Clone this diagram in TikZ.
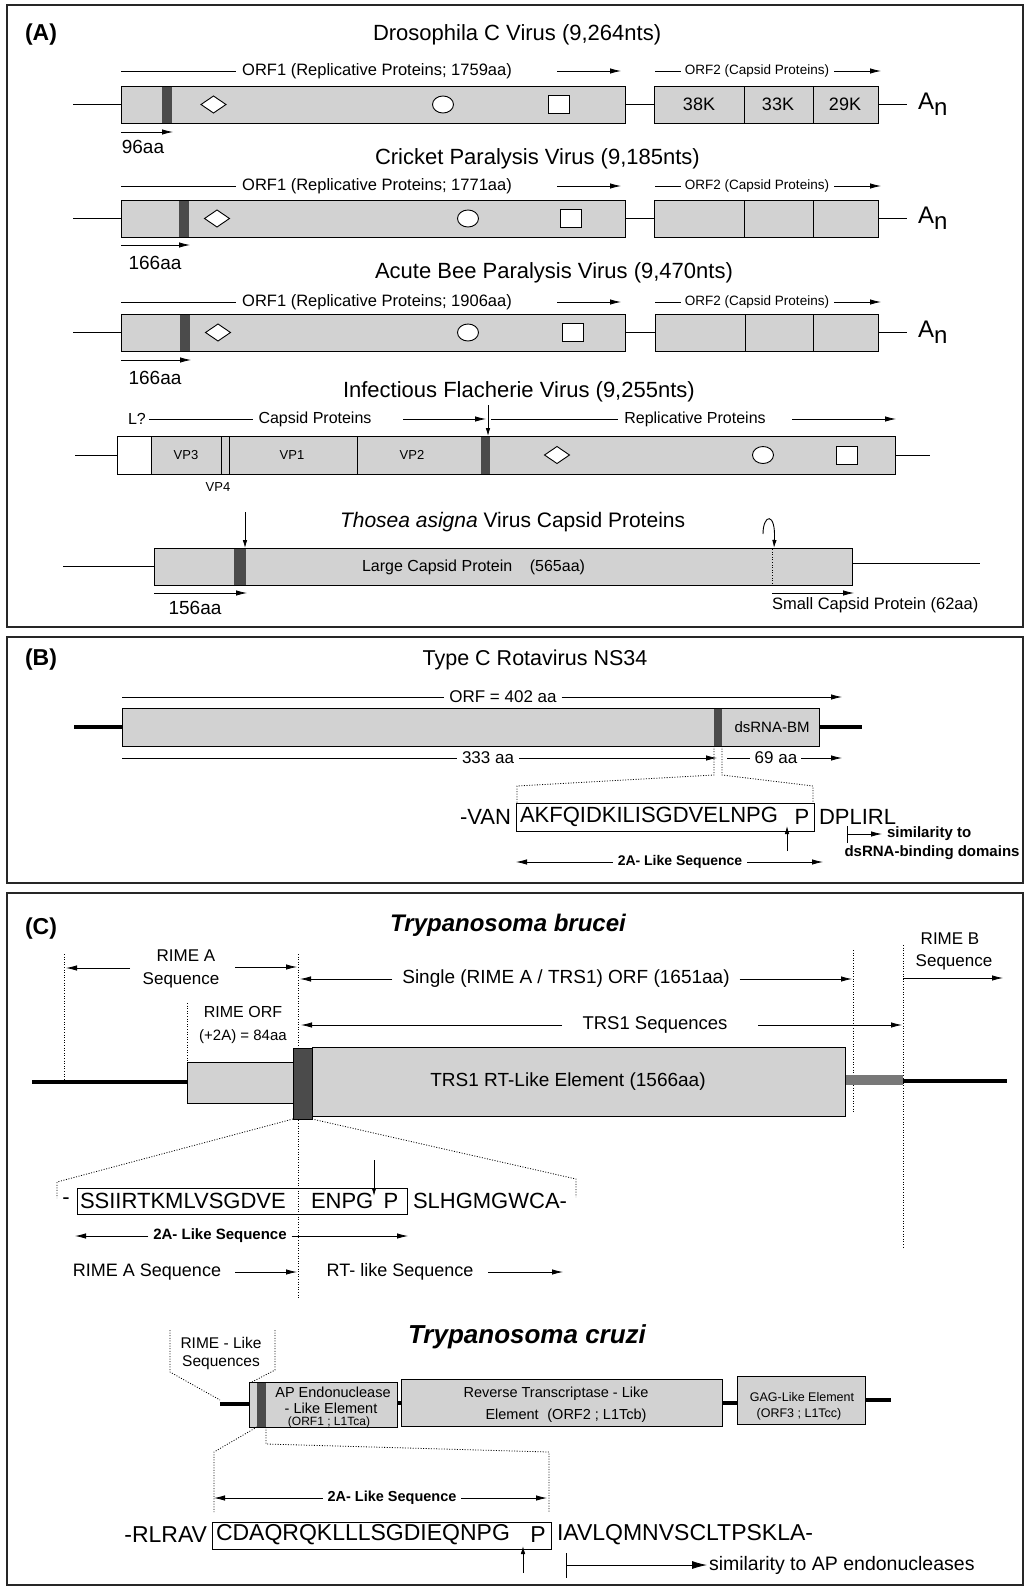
\documentclass[tikz,border=0pt]{standalone}
\usepackage{fontspec}
\setmainfont{Liberation Sans}
\usetikzlibrary{arrows.meta}
\definecolor{boxgray}{RGB}{210,210,210}
\definecolor{bargray}{RGB}{75,75,75}
\newcommand\fsz[1]{\fontsize{#1}{#1}\selectfont}
\newcommand\mydia[2]{\draw[shp] (#1,#2) +(-12.5,0) -- +(0,-8.5) -- +(12.5,0) -- +(0,8.5) -- cycle;}
\newcommand\mycirc[2]{\draw[shp] (#1,#2) ellipse (10.5 and 8.5);}
\newcommand\mysq[2]{\draw[shp] (#1,#2) +(-10.5,-9) rectangle +(10.5,9);}
\tikzset{
  frame/.style={draw=black!85, line width=1.1pt},
  gbox/.style={draw=black, line width=0.9pt, fill=boxgray},
  dbar/.style={fill=bargray, draw=none},
  thin/.style={line width=0.8pt},
  arr/.style={line width=0.8pt, -{Latex[length=11pt,width=5.5pt]}},
  sarr/.style={line width=0.8pt, -{Latex[length=8pt,width=4.5pt]}},
  dotl/.style={line width=0.8pt, dash pattern=on 1pt off 1.6pt},
  heavy/.style={line width=3.2pt},
  shp/.style={draw=black, fill=white, line width=0.9pt},
  txt/.style={inner sep=0pt, outer sep=0pt},
}
\begin{document}
\begin{tikzpicture}[x=1pt,y=-1pt]
\useasboundingbox (0,0) rectangle (1026,1587);
\fill[white] (0,0) rectangle (1026,1587);

% ================= PANEL A =================
\draw[frame] (7,5) rectangle (1023,627);
\node[txt,anchor=west,font=\fsz{23}\bfseries] (labA) at (25,35) {(A)};

% ---- Row 1: Drosophila C virus
\node[txt,anchor=west,font=\fsz{22}] (dcvT) at (373,35) {Drosophila C Virus (9,264nts)};
\node[txt,font=\fsz{16.5}] (dcvO1) at (377,71) {ORF1 (Replicative Proteins; 1759aa)};
\draw[thin] (121,71) -- ([xshift=-6pt]dcvO1.west);
\draw[arr] (557,71) -- (621,71);
\node[txt,font=\fsz{13.5}] (dcvO2) at (757,71) {ORF2 (Capsid Proteins)};
\draw[thin] (655,71) -- ([xshift=-4pt]dcvO2.west);
\draw[arr] ([xshift=5pt]dcvO2.east) -- (881,71);
\draw[thin] (73,104.5) -- (121,104.5);
\draw[gbox] (121,86) rectangle (625,123);
\fill[dbar] (162,86.5) rectangle (172,122.5);
\mydia{213.5}{104.5} \mycirc{443}{104.5} \mysq{558.5}{104}
\draw[thin] (625,104.5) -- (654,104.5);
\draw[gbox] (654,86) rectangle (878,123);
\draw[thin] (744,86) -- (744,123) (813,86) -- (813,123);
\node[txt,font=\fsz{18}] (k38) at (699,104.5) {38K};
\node[txt,font=\fsz{18}] (k33) at (778,104.5) {33K};
\node[txt,font=\fsz{18}] (k29) at (845,104.5) {29K};
\draw[thin] (878,104.5) -- (907,104.5);
\node[txt,anchor=west,font=\fsz{24}] (an1) at (918,104) {A\raisebox{-6pt}{n}};
\draw[arr] (121,132) -- (173,132);
\node[txt,font=\fsz{19}] (aa1) at (143,147) {96aa};

% ---- Row 2: Cricket paralysis virus
\node[txt,anchor=west,font=\fsz{22}] (crpT) at (375,159) {Cricket Paralysis Virus (9,185nts)};
\node[txt,font=\fsz{16.5}] (crpO1) at (377,186) {ORF1 (Replicative Proteins; 1771aa)};
\draw[thin] (121,186) -- ([xshift=-6pt]crpO1.west);
\draw[arr] (557,186) -- (621,186);
\node[txt,font=\fsz{13.5}] (crpO2) at (757,186) {ORF2 (Capsid Proteins)};
\draw[thin] (655,186) -- ([xshift=-4pt]crpO2.west);
\draw[arr] ([xshift=5pt]crpO2.east) -- (881,186);
\draw[thin] (73,218.5) -- (121,218.5);
\draw[gbox] (121,200) rectangle (625,237);
\fill[dbar] (179,200.5) rectangle (189,236.5);
\mydia{217}{218.5} \mycirc{468}{218.5} \mysq{571}{218}
\draw[thin] (625,218.5) -- (654,218.5);
\draw[gbox] (654,200) rectangle (878,237);
\draw[thin] (744,200) -- (744,237) (813,200) -- (813,237);
\draw[thin] (878,218.5) -- (907,218.5);
\node[txt,anchor=west,font=\fsz{24}] (an2) at (918,218) {A\raisebox{-6pt}{n}};
\draw[arr] (121,245) -- (190,245);
\node[txt,font=\fsz{19}] (aa2) at (155,263) {166aa};

% ---- Row 3: Acute bee paralysis virus
\node[txt,anchor=west,font=\fsz{22}] (abpT) at (375,273) {Acute Bee Paralysis Virus (9,470nts)};
\node[txt,font=\fsz{16.5}] (abpO1) at (377,302) {ORF1 (Replicative Proteins; 1906aa)};
\draw[thin] (121,302) -- ([xshift=-6pt]abpO1.west);
\draw[arr] (557,302) -- (621,302);
\node[txt,font=\fsz{13.5}] (abpO2) at (757,302) {ORF2 (Capsid Proteins)};
\draw[thin] (655,302) -- ([xshift=-4pt]abpO2.west);
\draw[arr] ([xshift=5pt]abpO2.east) -- (881,302);
\draw[thin] (73,332.5) -- (121,332.5);
\draw[gbox] (121,314) rectangle (625,351);
\fill[dbar] (180,314.5) rectangle (190,350.5);
\mydia{218}{332.5} \mycirc{468}{332.5} \mysq{572.5}{332}
\draw[thin] (625,332.5) -- (655,332.5);
\draw[gbox] (655,314) rectangle (878,351);
\draw[thin] (745,314) -- (745,351) (813,314) -- (813,351);
\draw[thin] (878,332.5) -- (907,332.5);
\node[txt,anchor=west,font=\fsz{24}] (an3) at (918,332) {A\raisebox{-6pt}{n}};
\draw[arr] (121,360) -- (191,360);
\node[txt,font=\fsz{19}] (aa3) at (155,378) {166aa};

% ---- Row 4: Infectious flacherie virus
\node[txt,anchor=west,font=\fsz{22}] (ifvT) at (343,392) {Infectious Flacherie Virus (9,255nts)};
\node[txt,anchor=west,font=\fsz{16}] (ifvL) at (128,419) {L?};
\node[txt,font=\fsz{16}] (ifvC) at (315,419) {Capsid Proteins};
\draw[thin] ([xshift=3pt]ifvL.east) -- ([xshift=-6pt]ifvC.west);
\draw[arr] (403,419) -- (486,419);
\draw[sarr] (488,405) -- (488,436);
\node[txt,font=\fsz{16}] (ifvR) at (695,419) {Replicative Proteins};
\draw[thin] (491,419) -- ([xshift=-6pt]ifvR.west);
\draw[arr] (792,419) -- (896,419);
\draw[thin] (75,455) -- (117,455);
\draw[gbox] (117,436) rectangle (895,474);
\draw[draw=black,line width=0.9pt,fill=white] (117,436) rectangle (151,474);
\draw[thin] (221,436) -- (221,474) (229,436) -- (229,474) (357,436) -- (357,474);
\fill[dbar] (481,436.5) rectangle (490,473.5);
\node[txt,font=\fsz{13}] (vp3) at (186,455) {VP3};
\node[txt,font=\fsz{13}] (vp1) at (292,455) {VP1};
\node[txt,font=\fsz{13}] (vp2) at (412,455) {VP2};
\node[txt,font=\fsz{13}] (vp4) at (218,487) {VP4};
\mydia{557}{455} \mycirc{763}{455} \mysq{847}{455}
\draw[thin] (895,455) -- (930,455);

% ---- Row 5: Thosea asigna virus
\node[txt,anchor=west,font=\fsz{21}] (tavT) at (340,522) {\itshape Thosea asigna\upshape{} Virus Capsid Proteins};
\draw[sarr] (245,512) -- (245,548);
\draw[thin] (63,566) -- (154,566);
\draw[gbox] (154,548) rectangle (852,585);
\fill[dbar] (234,548.5) rectangle (246,584.5);
\draw[dotl] (772,549) -- (772,585);
\node[txt,anchor=west,font=\fsz{16}] (tavL) at (362,567) {Large Capsid Protein\hspace{1.1em}(565aa)};
\draw[-{Latex[length=8pt,width=4.5pt]},line width=0.9pt] (763,534) .. controls (763,514) and (776,511) .. (774,548);
\draw[thin] (852,563) -- (980,563);
\draw[arr] (154,593) -- (247,593);
\node[txt,font=\fsz{19}] (aa5) at (195,608) {156aa};
\draw[arr] (772,593) -- (854,593);
\node[txt,anchor=west,font=\fsz{16.5}] (tavS) at (772,605) {Small Capsid Protein (62aa)};

% ================= PANEL B =================
\draw[frame] (7,637) rectangle (1023,883);
\node[txt,anchor=west,font=\fsz{23}\bfseries] (labB) at (25,660) {(B)};
\node[txt,font=\fsz{21.5}] (rotT) at (535,660) {Type C Rotavirus NS34};
\node[txt,font=\fsz{17}] (orfB) at (503,697) {ORF = 402 aa};
\draw[thin] (122,697) -- ([xshift=-5pt]orfB.west);
\draw[arr] ([xshift=5pt]orfB.east) -- (842,697);
\draw[heavy] (74,727) -- (122,727);
\draw[heavy] (819,727) -- (862,727);
\draw[gbox] (122,708) rectangle (819,746);
\fill[dbar] (714,708.5) rectangle (722,745.5);
\node[txt,font=\fsz{15}] (dsbm) at (772,727) {dsRNA-BM};
\node[txt,font=\fsz{17}] (a333) at (488,758) {333 aa};
\draw[thin] (122,758) -- ([xshift=-5pt]a333.west);
\draw[arr] ([xshift=5pt]a333.east) -- (717,758);
\node[txt,font=\fsz{17}] (a69) at (776,758) {69 aa};
\draw[thin] (727,758) -- ([xshift=-5pt]a69.west);
\draw[arr] ([xshift=4pt]a69.east) -- (842,758);
\draw[dotl] (714,746) -- (714,775) -- (517,786) -- (517,803);
\draw[dotl] (722,746) -- (722,775) -- (813,786) -- (813,803);
\draw[line width=0.9pt] (516,803) rectangle (814,831);
\node[txt,anchor=east,font=\fsz{22}] (van) at (511,817) {-VAN};
\node[txt,anchor=west,font=\fsz{22}] (seqB) at (520,817) {AKFQIDKILISGDVELNPG};
\node[txt,font=\fsz{22}] (pB) at (802,817) {P};
\node[txt,anchor=west,font=\fsz{22}] (dpl) at (819,817) {DPLIRL};
\draw[sarr] (787,851) -- (787,826);
\node[txt,font=\fsz{14}\bfseries] (twoaB) at (680,862) {2A- Like Sequence};
\draw[arr] ([xshift=-5pt]twoaB.west) -- (516,862);
\draw[arr] ([xshift=5pt]twoaB.east) -- (823,862);
\draw[thin] (847,826) -- (847,843);
\draw[arr] (847,834) -- (882,834);
\node[txt,anchor=west,font=\fsz{15}\bfseries] (simB) at (887,834) {similarity to};
\node[txt,font=\fsz{15}\bfseries] (dsB) at (932,853) {dsRNA-binding domains};

% ================= PANEL C =================
\draw[frame] (7,893) rectangle (1023,1585);
\node[txt,anchor=west,font=\fsz{23}\bfseries] (labC) at (25,929) {(C)};
\node[txt,font=\fsz{24}\bfseries\itshape] (tbT) at (508,925) {Trypanosoma brucei};
% dotted verticals
\draw[dotl] (64,954) -- (64,1081);
\draw[dotl] (298,954) -- (298,1298);
\draw[dotl] (853,950) -- (853,1113);
\draw[dotl] (903,945) -- (903,1248);
\draw[dotl] (187,1003) -- (187,1062);
% RIME A
\node[txt,font=\fsz{17}] (rimeA1) at (186,956) {RIME A};
\node[txt,font=\fsz{17}] (rimeA2) at (181,980) {Sequence};
\draw[arr] (130,968) -- (66,968);
\draw[arr] (235,967) -- (297,967);
% Single ORF
\node[txt,font=\fsz{19}] (single) at (566,979) {Single (RIME A / TRS1) ORF (1651aa)};
\draw[arr] ([xshift=-10pt]single.west) -- (300,979);
\draw[arr] ([xshift=10pt]single.east) -- (852,979);
% RIME B
\node[txt,font=\fsz{17}] (rimeB1) at (950,939) {RIME B};
\node[txt,font=\fsz{17}] (rimeB2) at (954,962) {Sequence};
\draw[arr] (903,978) -- (1003,978);
% RIME ORF
\node[txt,font=\fsz{16}] (rorf1) at (243,1012) {RIME ORF};
\node[txt,font=\fsz{15}] (rorf2) at (243,1037) {(+2A) = 84aa};
% TRS1 sequences
\node[txt,font=\fsz{18.5}] (trs1s) at (655,1025) {TRS1 Sequences};
\draw[arr] (562,1025) -- (301,1025);
\draw[arr] (758,1025) -- (902,1025);
% genome
\draw[heavy] (32,1082) -- (187,1082);
\draw[heavy] (903,1081) -- (1007,1081);
\draw[draw=none,fill=bargray!75] (845,1075) rectangle (903,1085);
\draw[gbox] (312,1047) rectangle (845,1116);
\draw[gbox] (187,1062) rectangle (293,1103);
\draw[fill=bargray,draw=black,line width=0.6pt] (293,1048) rectangle (312,1119);
\node[txt,font=\fsz{19}] (trsEl) at (568,1082) {TRS1 RT-Like Element (1566aa)};
% zoom lines
\draw[dotl] (293,1119) -- (57,1182) -- (57,1198);
\draw[dotl] (312,1119) -- (576,1179) -- (576,1197);
% sequence
\node[txt,font=\fsz{22}] (dashC) at (66,1201) {-};
\draw[line width=0.9pt] (77,1188) rectangle (407,1214);
\node[txt,anchor=west,font=\fsz{22}] (seqC1) at (80,1201) {SSIIRTKMLVSGDVE};
\node[txt,anchor=west,font=\fsz{22}] (seqC2) at (311,1201) {ENPG};
\node[txt,font=\fsz{22}] (pC) at (391,1201) {P};
\node[txt,anchor=west,font=\fsz{22}] (seqC3) at (413,1201) {SLHGMGWCA-};
\draw[sarr] (374,1160) -- (374,1196);
\node[txt,font=\fsz{15}\bfseries] (twoaC) at (220,1236) {2A- Like Sequence};
\draw[arr] ([xshift=-5pt]twoaC.west) -- (75,1236);
\draw[arr] ([xshift=5pt]twoaC.east) -- (408,1236);
\node[txt,font=\fsz{18}] (rimeAs) at (147,1272) {RIME A Sequence};
\draw[arr] (235,1272) -- (297,1272);
\node[txt,font=\fsz{18}] (rtls) at (400,1272) {RT- like Sequence};
\draw[arr] (488,1272) -- (563,1272);

% ---- T. cruzi
\node[txt,font=\fsz{26}\bfseries\itshape] (tcT) at (527,1337) {Trypanosoma cruzi};
\node[txt,font=\fsz{15.5}] (rl1) at (221,1343) {RIME - Like};
\node[txt,font=\fsz{15.5}] (rl2) at (221,1363) {Sequences};
\draw[dotl] (170,1330) -- (170,1372) -- (220,1400);
\draw[dotl] (275,1330) -- (275,1370) -- (250,1383);
\draw[heavy] (220,1404) -- (249,1404);
\draw[heavy] (397,1403) -- (401,1403);
\draw[heavy] (722,1403) -- (737,1403);
\draw[heavy] (865,1400) -- (891,1400);
\draw[gbox] (249,1382) rectangle (397,1427);
\fill[bargray] (257,1382.5) rectangle (266,1426.5);
\draw[gbox] (401,1379) rectangle (722,1426);
\draw[gbox] (737,1376) rectangle (865,1424);
\node[txt,font=\fsz{14.5}] (ap1) at (333,1392) {AP Endonuclease};
\node[txt,font=\fsz{14.5}] (ap2) at (331,1408) {- Like Element};
\node[txt,font=\fsz{12}] (ap3) at (329,1422) {(ORF1 ; L1Tca)};
\node[txt,font=\fsz{14.5}] (rt1) at (556,1394) {Reverse Transcriptase - Like};
\node[txt,font=\fsz{14.5}] (rt2) at (566,1416) {Element\hspace{0.6em}(ORF2 ; L1Tcb)};
\node[txt,font=\fsz{12.5}] (gag1) at (802,1397) {GAG-Like Element};
\node[txt,font=\fsz{12.5}] (gag2) at (799,1414) {(ORF3 ; L1Tcc)};
\draw[dotl] (257,1427) -- (214,1452) -- (214,1512);
\draw[dotl] (266,1427) -- (266,1444) -- (549,1452) -- (549,1512);
\node[txt,font=\fsz{14.5}\bfseries] (twoaT) at (392,1498) {2A- Like Sequence};
\draw[arr] ([xshift=-5pt]twoaT.west) -- (214,1498);
\draw[arr] ([xshift=5pt]twoaT.east) -- (547,1498);
\draw[line width=0.9pt] (212,1522) rectangle (551,1549);
\node[txt,anchor=east,font=\fsz{23}] (rlrav) at (207,1535) {-RLRAV};
\node[txt,anchor=west,font=\fsz{23}] (seqT) at (216,1535) {CDAQRQKLLLSGDIEQNPG};
\node[txt,font=\fsz{23}] (pT) at (538,1535) {P};
\node[txt,anchor=west,font=\fsz{23}] (iav) at (557,1535) {IAVLQMNVSCLTPSKLA-};
\draw[sarr] (523,1573) -- (523,1546);
\draw[thin] (566,1553) -- (566,1578);
\draw[line width=0.8pt,-{Latex[length=15pt,width=8pt]}] (566,1565) -- (707,1565);
\node[txt,anchor=west,font=\fsz{19.5}] (simT) at (709,1565) {similarity to AP endonucleases};
\end{tikzpicture}
\end{document}
